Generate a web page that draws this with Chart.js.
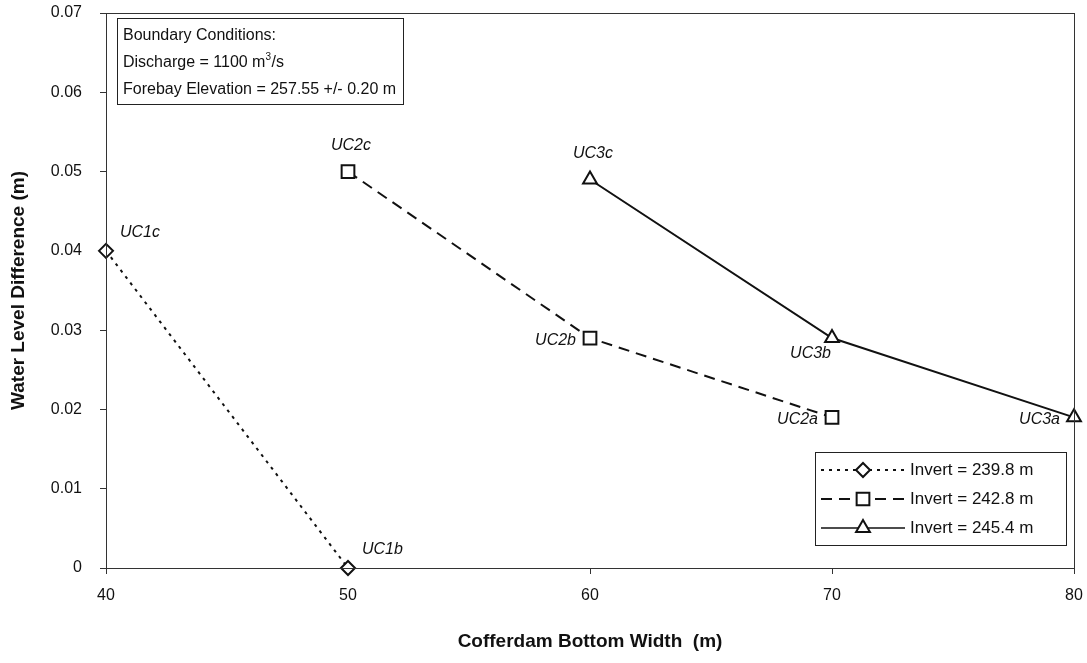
<!DOCTYPE html>
<html>
<head>
<meta charset="utf-8">
<script src="https://cdn.jsdelivr.net/npm/chart.js@4/dist/chart.umd.min.js"></script>
<style>
    body { margin: 0; background: #fff; }
    #wrap { width: 1087px; height: 663px; }
</style>
</head>
<body>
<div id="wrap"><canvas id="levelChart"></canvas></div>
<script>
const xTickLabels = ["40", "50", "60", "70", "80"];
const yTickLabels = ["0", "0.01", "0.02", "0.03", "0.04", "0.05", "0.06", "0.07"];

const seriesNames = ["Invert = 239.8 m", "Invert = 242.8 m", "Invert = 245.4 m"];

const widths1 = [40, 50];
const diffs1 = [0.04, 0.0];
const cases1 = ["UC1c", "UC1b"];

const widths2 = [50, 60, 70];
const diffs2 = [0.05, 0.029, 0.019];
const cases2 = ["UC2c", "UC2b", "UC2a"];

const widths3 = [60, 70, 80];
const diffs3 = [0.049, 0.029, 0.019];
const cases3 = ["UC3c", "UC3b", "UC3a"];

const boxLines = ["Boundary Conditions:", "Discharge = 1100 m", "Forebay Elevation = 257.55 +/- 0.20 m"];

// where each case label sits relative to its point
const labelPlace = {
    UC1c: "upright", UC1b: "upright",
    UC2c: "above", UC2b: "left", UC2a: "left",
    UC3c: "above", UC3b: "below", UC3a: "left"
};

const ink = "#111";
const font = "'Liberation Sans', Arial, sans-serif";
const dashes = [[3, 5], [11, 7], []];
const markers = ["rectRot", "rect", "triangle"];
const markerSize = [7, 9, 8];

function toPoints(xs, ys) {
    return xs.map((x, i) => ({ x: x, y: ys[i] }));
}

// drop the automatic room Chart.js keeps for overhanging tick labels
function noOverhang(scale) {
    scale.paddingTop = 0;
    scale.paddingBottom = 0;
    scale.paddingLeft = 0;
    scale.paddingRight = 0;
}

const caseLists = [cases1, cases2, cases3];

const extras = {
    id: "extras",
    afterDatasetsDraw(chart) {
        const ctx = chart.ctx;
        const area = chart.chartArea;
        ctx.save();

        // plot frame
        ctx.strokeStyle = "#333";
        ctx.lineWidth = 1;
        ctx.strokeRect(area.left + 0.5, area.top + 0.5, area.right - area.left, area.bottom - area.top);

        // case labels
        ctx.fillStyle = ink;
        ctx.font = "italic 16px " + font;
        chart.data.datasets.forEach((ds, di) => {
            const meta = chart.getDatasetMeta(di);
            meta.data.forEach((pt, i) => {
                const name = caseLists[di][i];
                const place = labelPlace[name];
                ctx.textBaseline = "middle";
                if (place === "upright") {
                    ctx.textAlign = "left";
                    ctx.fillText(name, pt.x + 14, pt.y - 18);
                } else if (place === "above") {
                    ctx.textAlign = "center";
                    ctx.fillText(name, pt.x + 3, pt.y - 26);
                } else if (place === "left") {
                    ctx.textAlign = "right";
                    ctx.fillText(name, pt.x - 14, pt.y + 2);
                } else {
                    ctx.textAlign = "right";
                    ctx.fillText(name, pt.x - 1, pt.y + 15);
                }
            });
        });

        // boundary conditions box
        ctx.font = "16px " + font;
        ctx.textAlign = "left";
        ctx.textBaseline = "alphabetic";
        const bx = area.left + 11, by = area.top + 5;
        ctx.fillStyle = "#fff";
        ctx.fillRect(bx, by, 286, 86);
        ctx.strokeStyle = "#222";
        ctx.strokeRect(bx + 0.5, by + 0.5, 286, 86);
        ctx.fillStyle = ink;
        ctx.fillText(boxLines[0], bx + 6, by + 22);
        ctx.fillText(boxLines[1], bx + 6, by + 49);
        const w1 = ctx.measureText(boxLines[1]).width;
        ctx.font = "10px " + font;
        ctx.fillText("3", bx + 6 + w1, by + 42);
        ctx.font = "16px " + font;
        ctx.fillText("/s", bx + 6 + w1 + 6, by + 49);
        ctx.fillText(boxLines[2], bx + 6, by + 76);

        // legend
        const lx = 815, ly = 452, lw = 251, lh = 93;
        ctx.fillStyle = "#fff";
        ctx.fillRect(lx, ly, lw, lh);
        ctx.strokeStyle = "#222";
        ctx.lineWidth = 1;
        ctx.strokeRect(lx + 0.5, ly + 0.5, lw, lh);
        chart.data.datasets.forEach((ds, di) => {
            const y = ly + 18 + di * 29;
            ctx.strokeStyle = ink;
            ctx.lineWidth = di === 2 ? 1.5 : 2;
            ctx.setLineDash(dashes[di]);
            ctx.beginPath();
            ctx.moveTo(lx + 6, y);
            ctx.lineTo(lx + 90, y);
            ctx.stroke();
            ctx.setLineDash([]);
            ctx.lineWidth = 2;
            ctx.fillStyle = "#fff";
            Chart.helpers.drawPoint(ctx, { pointStyle: markers[di], radius: markerSize[di], borderWidth: 2 }, lx + 48, y);
            ctx.fillStyle = ink;
            ctx.font = "17px " + font;
            ctx.textAlign = "left";
            ctx.textBaseline = "middle";
            ctx.fillText(ds.label, lx + 95, y);
        });
        ctx.restore();
    }
};

const baseSet = (label, data, di) => ({
    label: label,
    data: data,
    borderColor: ink,
    borderWidth: 2,
    borderDash: dashes[di],
    backgroundColor: "#fff",
    pointStyle: markers[di],
    pointRadius: markerSize[di],
    pointBorderWidth: 2,
    pointBorderColor: ink,
    pointBackgroundColor: "#fff",
    showLine: true,
    tension: 0,
    clip: false
});

new Chart(document.getElementById("levelChart"), {
    type: "scatter",
    data: {
        datasets: [
            baseSet(seriesNames[0], toPoints(widths1, diffs1), 0),
            baseSet(seriesNames[1], toPoints(widths2, diffs2), 1),
            baseSet(seriesNames[2], toPoints(widths3, diffs3), 2)
        ]
    },
    options: {
        responsive: true,
        maintainAspectRatio: false,
        animation: false,
        layout: { padding: { top: 13, right: 13, left: 0, bottom: 0 } },
        plugins: {
            legend: { display: false },
            tooltip: { enabled: false }
        },
        scales: {
            x: {
                type: "linear",
                min: 40,
                max: 80,
                afterFit: (scale) => { scale.height = 95; noOverhang(scale); },
                ticks: {
                    stepSize: 10,
                    padding: 12,
                    color: ink,
                    font: { family: font, size: 16 },
                    callback: (v, i) => xTickLabels[i]
                },
                grid: { display: true, drawOnChartArea: false, drawTicks: true, tickLength: 6, color: "#333" },
                border: { display: true, color: "#333" },
                title: {
                    display: true,
                    text: "Cofferdam Bottom Width  (m)",
                    color: ink,
                    font: { family: font, size: 19, weight: "bold" },
                    padding: { top: 0, bottom: 10 }
                }
            },
            y: {
                type: "linear",
                min: 0,
                max: 0.07,
                afterFit: (scale) => { scale.width = 106; noOverhang(scale); },
                ticks: {
                    stepSize: 0.01,
                    padding: 18,
                    color: ink,
                    font: { family: font, size: 16 },
                    callback: (v, i) => yTickLabels[i]
                },
                grid: { display: true, drawOnChartArea: false, drawTicks: true, tickLength: 6, color: "#333" },
                border: { display: true, color: "#333" },
                title: {
                    display: true,
                    text: "Water Level Difference (m)",
                    color: ink,
                    font: { family: font, size: 19, weight: "bold" },
                    padding: { top: 7, bottom: 0 }
                }
            }
        }
    },
    plugins: [extras]
});
</script>
</body>
</html>
